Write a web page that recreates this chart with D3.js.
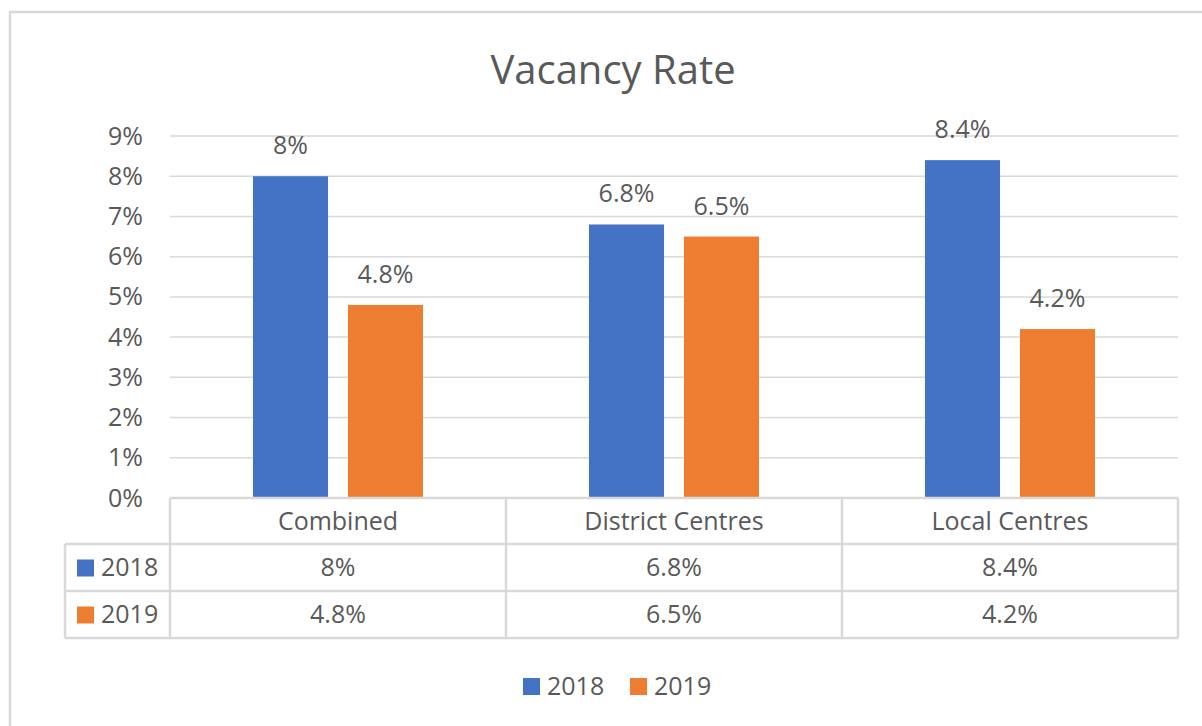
<!DOCTYPE html>
<html lang='en'>
<head>
  <meta charset='UTF-8'>
  <title>Vacancy Rate</title>
  <style>
    * { margin: 0; padding: 0; }
    body { background: #fff; }
    #chart { width: 1202px; height: 726px; }
    text { font-family: 'Open Sans', 'Noto Sans', sans-serif; fill: #595959; }
  </style>
</head>
<body>
<div id='chart'></div>
<script src='https://cdn.jsdelivr.net/npm/d3@7'></script>
<script>
  const categories = ['Combined', 'District Centres', 'Local Centres']
  const series = ['2018', '2019']
  const values2018 = [8, 6.8, 8.4]
  const values2019 = [4.8, 6.5, 4.2]
  const yTicks = [0, 1, 2, 3, 4, 5, 6, 7, 8, 9]
  const colors = ['#4472c4', '#ed7d31']

  const allValues = [values2018, values2019]
  const W = 1202, H = 726
  const plot = {left: 170, right: 1178, top: 136, bottom: 498}
  const rowH = [46, 47, 47]
  const fs = '25px'

  const svg = d3.select('#chart').append('svg')
    .attr('width', W).attr('height', H)

  svg.append('rect').attr('width', W).attr('height', H).attr('fill', '#fff')

  // chart border
  svg.append('rect')
    .attr('x', 10).attr('y', 12)
    .attr('width', W + 20).attr('height', H + 20)
    .attr('fill', 'none').attr('stroke', '#d9d9d9').attr('stroke-width', 2.5)

  // title
  svg.append('text')
    .attr('x', 613).attr('y', 84)
    .attr('text-anchor', 'middle')
    .style('font-size', '40px')
    .text('Vacancy Rate')

  const x = d3.scaleBand().domain(categories).range([plot.left, plot.right])
  const bw = x.bandwidth()
  const xi = d3.scaleBand().domain(series).range([bw * 0.247, bw * 0.753]).paddingInner(0.21)
  const y = d3.scaleLinear().domain([0, 9]).range([plot.bottom, plot.top])

  // gridlines
  svg.append('g').selectAll('line').data(yTicks).join('line')
    .attr('x1', plot.left).attr('x2', plot.right)
    .attr('y1', d => y(d)).attr('y2', d => y(d))
    .attr('stroke', '#d9d9d9').attr('stroke-width', 1.5)

  // y axis labels
  const yAxis = svg.append('g')
    .attr('transform', 'translate(' + (plot.left - 27) + ',0)')
    .call(d3.axisLeft(y).tickValues(yTicks).tickFormat(d => d + '%').tickSize(0).tickPadding(0))
  yAxis.select('.domain').remove()
  yAxis.selectAll('text').style('font-size', fs).attr('fill', '#595959').style('font-family', null)

  // bars
  series.forEach((s, si) => {
    const g = svg.append('g')
    g.selectAll('rect').data(categories).join('rect')
      .attr('x', (c) => x(c) + xi(s))
      .attr('width', xi.bandwidth())
      .attr('y', (c, i) => y(allValues[si][i]))
      .attr('height', (c, i) => y(0) - y(allValues[si][i]))
      .attr('fill', colors[si])
    g.selectAll('text').data(categories).join('text')
      .attr('x', (c) => x(c) + xi(s) + xi.bandwidth() / 2)
      .attr('y', (c, i) => y(allValues[si][i]) - 22)
      .attr('text-anchor', 'middle')
      .style('font-size', fs)
      .text((c, i) => allValues[si][i] + '%')
  })

  // data table
  const tableLeft = 65
  const rowTop = [plot.bottom, plot.bottom + rowH[0], plot.bottom + rowH[0] + rowH[1]]
  const tableBottom = rowTop[2] + rowH[2]
  const tg = svg.append('g').attr('stroke', '#d9d9d9').attr('stroke-width', 2.5).attr('fill', 'none')
  // horizontal lines
  tg.append('line').attr('x1', plot.left).attr('x2', plot.right).attr('y1', rowTop[0]).attr('y2', rowTop[0])
  ;[rowTop[1], rowTop[2], tableBottom].forEach(yy => {
    tg.append('line').attr('x1', tableLeft).attr('x2', plot.right).attr('y1', yy).attr('y2', yy)
  })
  // vertical lines
  tg.append('line').attr('x1', tableLeft).attr('x2', tableLeft).attr('y1', rowTop[1]).attr('y2', tableBottom)
  categories.forEach(c => {
    tg.append('line').attr('x1', x(c)).attr('x2', x(c)).attr('y1', rowTop[0]).attr('y2', tableBottom)
  })
  tg.append('line').attr('x1', plot.right).attr('x2', plot.right).attr('y1', rowTop[0]).attr('y2', tableBottom)

  // header texts
  svg.append('g').selectAll('text').data(categories).join('text')
    .attr('x', c => x(c) + x.bandwidth() / 2)
    .attr('y', rowTop[0] + rowH[0] / 2)
    .attr('dy', '0.35em')
    .attr('text-anchor', 'middle')
    .style('font-size', fs)
    .text(c => c)

  series.forEach((s, si) => {
    const cy = rowTop[si + 1] + rowH[si + 1] / 2
    svg.append('rect').attr('x', 77).attr('y', cy - 8).attr('width', 17).attr('height', 17).attr('fill', colors[si])
    svg.append('text').attr('x', 101).attr('y', cy).attr('dy', '0.35em')
      .style('font-size', fs).text(s)
    svg.append('g').selectAll('text').data(categories).join('text')
      .attr('x', c => x(c) + x.bandwidth() / 2)
      .attr('y', cy).attr('dy', '0.35em')
      .attr('text-anchor', 'middle')
      .style('font-size', fs)
      .text((c, i) => allValues[si][i] + '%')
  })

  // legend
  const legendX = [523, 630]
  series.forEach((s, si) => {
    svg.append('rect').attr('x', legendX[si]).attr('y', 678).attr('width', 17).attr('height', 17).attr('fill', colors[si])
    svg.append('text').attr('x', legendX[si] + 24).attr('y', 686).attr('dy', '0.35em')
      .style('font-size', fs).text(s)
  })
</script>
</body>
</html>
